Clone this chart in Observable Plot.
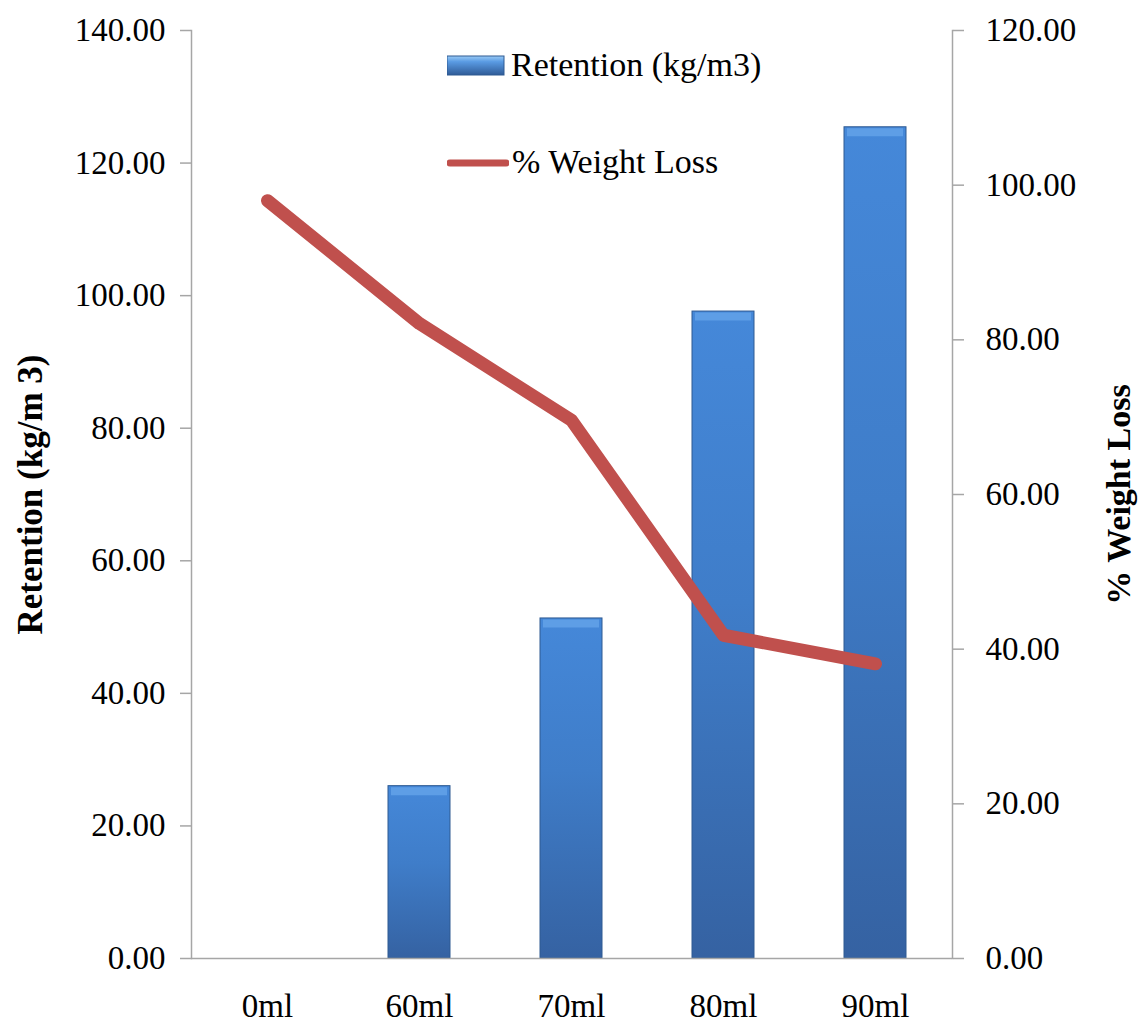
<!DOCTYPE html>
<html><head><meta charset="utf-8">
<script src="https://cdn.jsdelivr.net/npm/d3@7"></script>
<script src="https://cdn.jsdelivr.net/npm/@observablehq/plot@0.6"></script>
<style>
body{margin:0;background:#fff;}
#wrap{position:relative;width:1142px;height:1026px;}
.leg{position:absolute;font-family:"Liberation Serif",serif;font-size:34px;color:#000;display:flex;align-items:center;white-space:nowrap;}
</style></head><body>
<svg width="0" height="0" style="position:absolute">
  <defs>
    <linearGradient id="barGrad" x1="0" y1="0" x2="0" y2="1">
      <stop offset="0" stop-color="#4588D9"/>
      <stop offset="0.45" stop-color="#3F7DC9"/>
      <stop offset="1" stop-color="#3562A2"/>
    </linearGradient>
    <linearGradient id="legGrad" x1="0" y1="0" x2="0" y2="1">
      <stop offset="0" stop-color="#9ACBF6"/>
      <stop offset="0.3" stop-color="#5A9BE3"/>
      <stop offset="1" stop-color="#2F5B97"/>
    </linearGradient>
  </defs>
</svg>
<div id="wrap"></div>
<script>
const categories = ["0ml", "60ml", "70ml", "80ml", "90ml"];
const retention = [0, 26.0, 51.3, 97.6, 125.4];
const weightLoss = [98.0, 82.1, 69.6, 41.8, 38.1];
const leftTicks = [0, 20, 40, 60, 80, 100, 120, 140];
const rightTicks = [0, 20, 40, 60, 80, 100, 120];
const leftMax = 140, rightMax = 120;

const rows = categories.map((c, i) => ({cat: c, ret: retention[i], wl: weightLoss[i]}));
const bars = rows.filter(d => d.ret > 0);
const fmt = d3.format(".2f");
const axisGray = "#A6A6A6";

const chart = Plot.plot({
  width: 1142,
  height: 1026,
  marginLeft: 191,
  marginRight: 190,
  marginTop: 30,
  marginBottom: 68,
  style: {fontFamily: "'Liberation Serif', serif", fontSize: "33px", background: "#fff", color: "#000"},
  x: {domain: categories, paddingInner: 0.59, paddingOuter: 0.295, label: null},
  y: {domain: [0, leftMax], label: null},
  marks: [
    Plot.barY(bars, {x: "cat", y: "ret", fill: "url(#barGrad)", stroke: "#2E5A92", strokeWidth: 1}),
    Plot.tickY(bars, {x: "cat", y: "ret", dy: 5, stroke: "#5E9EE6", strokeWidth: 8, insetLeft: 3, insetRight: 3}),
    Plot.line(rows, {x: "cat", y: d => d.wl * leftMax / rightMax, stroke: "#C0504D", strokeWidth: 13, strokeLinecap: "round", strokeLinejoin: "round"}),
    Plot.frame({anchor: "left", stroke: axisGray, strokeWidth: 1.5}),
    Plot.frame({anchor: "right", stroke: axisGray, strokeWidth: 1.5}),
    Plot.ruleY([0], {stroke: axisGray, strokeWidth: 1.5}),
    Plot.axisY(leftTicks, {anchor: "left", tickSize: 11, tickPadding: 15, stroke: axisGray, strokeWidth: 1.5, fill: "#000", fontSize: 33, tickFormat: fmt, label: null}),
    Plot.axisY(rightTicks.map(t => t * leftMax / rightMax), {anchor: "right", tickSize: 11, tickPadding: 22, stroke: axisGray, strokeWidth: 1.5, fill: "#000", fontSize: 33, tickFormat: d => fmt(d * rightMax / leftMax), label: null}),
    Plot.axisX({tickSize: 0, tickPadding: 35, fill: "#000", fontSize: 33, label: null}),
    Plot.text(["Retention (kg/m 3)"], {frameAnchor: "left", dx: -161, rotate: -90, textAnchor: "middle", lineAnchor: "middle", fontWeight: "bold", fontSize: 35, fill: "#000"}),
    Plot.text(["% Weight Loss"], {frameAnchor: "right", dx: 167, rotate: -90, textAnchor: "middle", lineAnchor: "middle", fontWeight: "bold", fontSize: 34, fill: "#000"})
  ]
});

const wrap = document.getElementById("wrap");
wrap.appendChild(chart);

const leg1 = document.createElement("div");
leg1.className = "leg";
leg1.style.left = "447px";
leg1.style.top = "46px";
leg1.innerHTML = `<svg width="60" height="38" style="margin-right:4px"><rect x="0" y="10" width="57" height="19" fill="url(#legGrad)" stroke="#2E5A92" stroke-width="1"/></svg><span>Retention (kg/m3)</span>`;
wrap.appendChild(leg1);

const leg2 = document.createElement("div");
leg2.className = "leg";
leg2.style.left = "447px";
leg2.style.top = "143px";
leg2.innerHTML = `<svg width="62" height="38" style="margin-right:3px"><line x1="3" y1="20" x2="59" y2="20" stroke="#C0504D" stroke-width="7" stroke-linecap="round"/></svg><span>% Weight Loss</span>`;
wrap.appendChild(leg2);
</script>
</body></html>
